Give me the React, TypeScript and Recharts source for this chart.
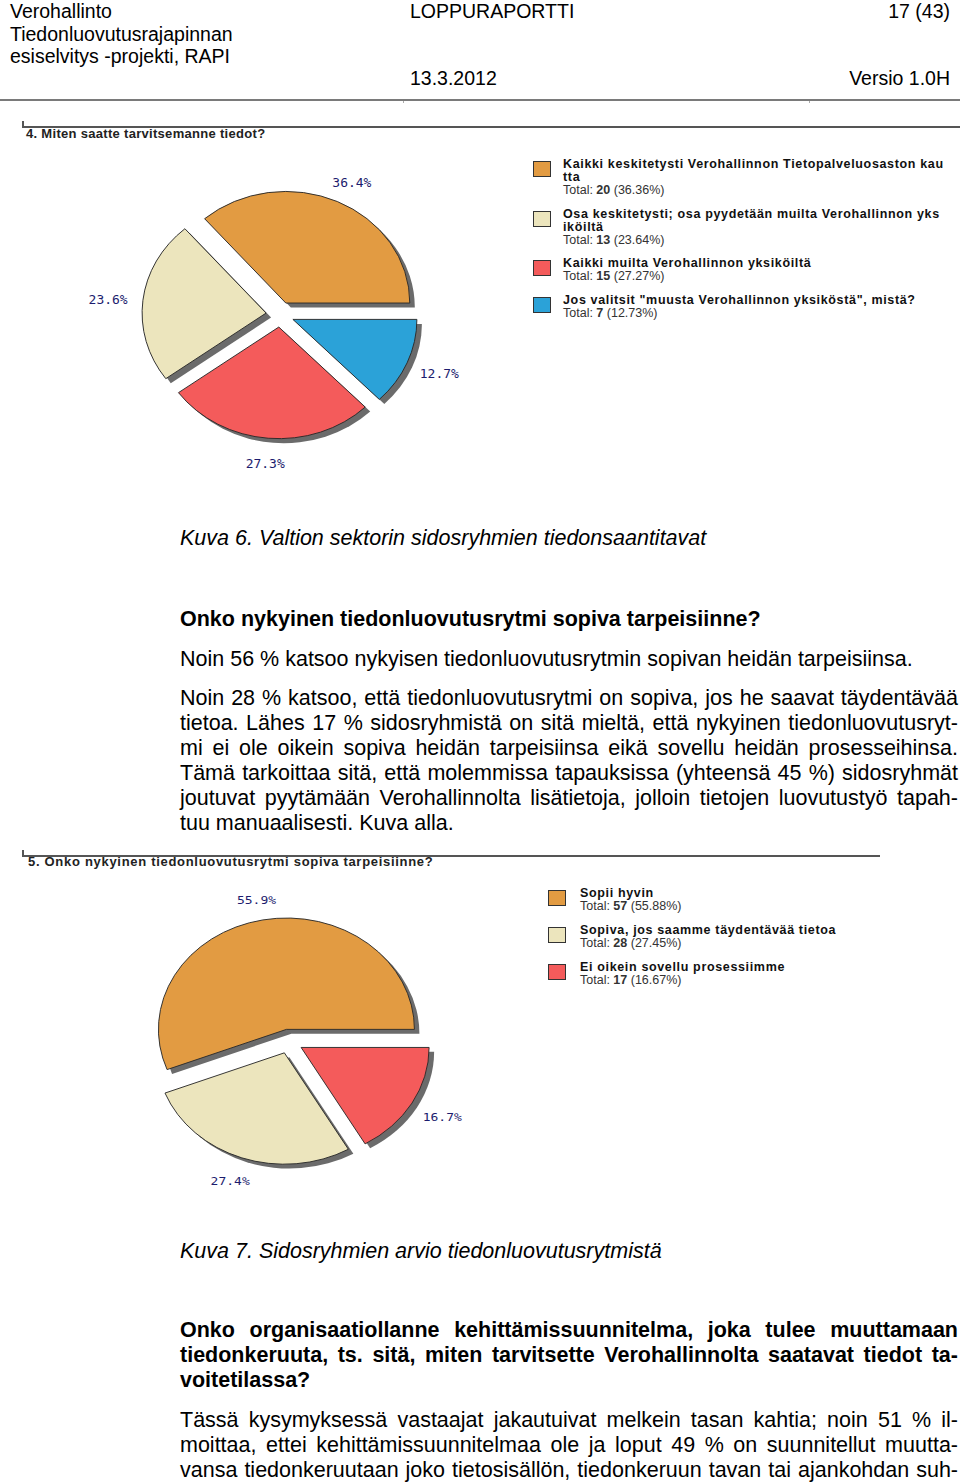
import React from 'react';
import { PieChart, Pie, Cell } from 'recharts';

// Kysymys 4: Miten saatte tarvitsemanne tiedot?
const q4Names = [
  'Kaikki keskitetysti Verohallinnon Tietopalveluosaston kautta',
  'Osa keskitetysti; osa pyydetään muilta Verohallinnon yksiköiltä',
  'Kaikki muilta Verohallinnon yksiköiltä',
  'Jos valitsit "muusta Verohallinnon yksiköstä", mistä?',
];
const q4Totals = [20, 13, 15, 7];
const q4Colors = ['#e29b42', '#ece5bd', '#f45b5b', '#2ba2d8'];
// where the legend wraps each name (0 = no wrap)
const q4Wraps = [57, 56, 0, 0];

// Kysymys 5: Onko nykyinen tiedonluovutusrytmi sopiva tarpeisiinne?
const q5Names = [
  'Sopii hyvin',
  'Sopiva, jos saamme täydentävää tietoa',
  'Ei oikein sovellu prosessiimme',
];
const q5Totals = [57, 28, 17];
const q5Colors = ['#e29b42', '#ece5bd', '#f45b5b'];
const q5Wraps = [0, 0, 0];

const sans = '"Liberation Sans", Arial, sans-serif';
const EXPLODE = 14;

// percentages to one decimal that still add up to 100.0 (largest remainder)
function roundedShares(totals: number[]) {
  const sum = totals.reduce((a, b) => a + b, 0);
  const raw = totals.map((v) => (v / sum) * 1000);
  const base = raw.map((x) => Math.floor(x));
  let left = 1000 - base.reduce((a, b) => a + b, 0);
  const order = raw.map((x, i) => ({ i, rem: x - Math.floor(x) })).sort((a, b) => b.rem - a.rem);
  for (const o of order) {
    if (left <= 0) break;
    base[o.i] += 1;
    left -= 1;
  }
  return base.map((b) => (b / 10).toFixed(1));
}

type PieProps = {
  names: string[];
  totals: number[];
  colors: string[];
  left: number;
  top: number;
  width: number;
  height: number;
  cx: number;
  cy: number;
  r: number;
  squash: number;
};

function ExplodedPie({ names, totals, colors, left, top, width, height, cx, cy, r, squash }: PieProps) {
  const data = names.map((name, i) => ({ name, value: totals[i] }));
  const sum = totals.reduce((a, b) => a + b, 0);
  const shares = roundedShares(totals);
  let acc = 0;
  const offsets = totals.map((v) => {
    const mid = ((acc + v / 2) / sum) * 2 * Math.PI;
    acc += v;
    return { dx: Math.cos(mid) * EXPLODE, dy: -Math.sin(mid) * EXPLODE };
  });

  const labelFor = (i: number) => (props: any) => {
    if (props.index !== i) return null;
    const a = (-props.midAngle * Math.PI) / 180;
    return (
      <text
        x={props.cx + (props.outerRadius + 35) * Math.cos(a)}
        y={props.cy + (props.outerRadius + 25.5) * Math.sin(a) + 3}
        textAnchor="middle"
        dominantBaseline="central"
        fill="#1c1c6e"
        fontFamily='"DejaVu Sans Mono", monospace'
        fontSize={13}
      >
        {shares[i]}%
      </text>
    );
  };

  const layer = (i: number, shadow: boolean) => (
    <Pie
      key={(shadow ? 's' : 'p') + i}
      data={data}
      dataKey="value"
      cx={cx + offsets[i].dx + (shadow ? 5 : 0)}
      cy={cy + offsets[i].dy + (shadow ? 5 : 0)}
      outerRadius={r}
      startAngle={0}
      endAngle={360}
      isAnimationActive={false}
      labelLine={false}
      label={shadow ? false : labelFor(i)}
    >
      {data.map((d, j) => (
        <Cell
          key={d.name}
          fill={j === i ? (shadow ? '#6b6b6b' : colors[j]) : 'transparent'}
          stroke={j === i && !shadow ? '#2a2a2a' : 'none'}
          strokeWidth={1}
        />
      ))}
    </Pie>
  );

  return (
    <div
      style={{
        position: 'absolute',
        left,
        top,
        width,
        height,
        transform: `scaleY(${squash})`,
        transformOrigin: `${cx}px ${cy}px`,
      }}
    >
      <PieChart width={width} height={height}>
        {data.map((_, i) => layer(i, true))}
        {data.map((_, i) => layer(i, false))}
      </PieChart>
    </div>
  );
}

function PieLegend({ names, totals, colors, wraps, left, top, textLeft, gap }: any) {
  const sum = totals.reduce((a: number, b: number) => a + b, 0);
  return (
    <div style={{ position: 'absolute', left, top, fontFamily: sans, fontSize: 12.5, lineHeight: '13px' }}>
      {names.map((n: string, i: number) => (
        <div key={n} style={{ position: 'relative', paddingLeft: textLeft, marginBottom: gap }}>
          <div
            style={{
              position: 'absolute',
              left: 0,
              top: 3,
              width: 18,
              height: 16,
              background: colors[i],
              border: '1px solid #333',
              boxSizing: 'border-box',
            }}
          />
          <div style={{ fontWeight: 'bold', letterSpacing: 0.65, whiteSpace: 'nowrap', color: '#111' }}>
            {wraps[i] ? (
              <>
                {n.slice(0, wraps[i])}
                <br />
                {n.slice(wraps[i])}
              </>
            ) : (
              n
            )}
          </div>
          <div style={{ color: '#333' }}>
            Total: <b>{totals[i]}</b> ({((totals[i] / sum) * 100).toFixed(2)}%)
          </div>
        </div>
      ))}
    </div>
  );
}

function Line({ text, top, justify = true, bold = false, italic = false }: any) {
  return (
    <div
      style={{
        position: 'absolute',
        left: 180,
        top,
        width: 778,
        fontFamily: sans,
        fontSize: 21.5,
        lineHeight: '25px',
        fontWeight: bold ? 'bold' : 'normal',
        fontStyle: italic ? 'italic' : 'normal',
        textAlign: justify ? 'justify' : 'left',
        textAlignLast: justify ? 'justify' : 'left',
        whiteSpace: 'nowrap',
        color: '#000',
      }}
    >
      {text}
    </div>
  );
}

const para1 = [
  'Noin 28 % katsoo, että tiedonluovutusrytmi on sopiva, jos he saavat täydentävää',
  'tietoa. Lähes 17 % sidosryhmistä on sitä mieltä, että nykyinen tiedonluovutusryt-',
  'mi ei ole oikein sopiva heidän tarpeisiinsa eikä sovellu heidän prosesseihinsa.',
  'Tämä tarkoittaa sitä, että molemmissa tapauksissa (yhteensä 45 %) sidosryhmät',
  'joutuvat pyytämään Verohallinnolta lisätietoja, jolloin tietojen luovutustyö tapah-',
];
const para2 = [
  'Onko organisaatiollanne kehittämissuunnitelma, joka tulee muuttamaan',
  'tiedonkeruuta, ts. sitä, miten tarvitsette Verohallinnolta saatavat tiedot ta-',
];
const para3 = [
  'Tässä kysymyksessä vastaajat jakautuivat melkein tasan kahtia; noin 51 % il-',
  'moittaa, ettei kehittämissuunnitelmaa ole ja loput 49 % on suunnitellut muutta-',
  'vansa tiedonkeruutaan joko tietosisällön, tiedonkeruun tavan tai ajankohdan suh-',
];

export default function App() {
  const hdr: React.CSSProperties = {
    position: 'absolute',
    fontFamily: sans,
    fontSize: 19.5,
    lineHeight: '22.5px',
    color: '#000',
    whiteSpace: 'nowrap',
  };
  return (
    <div style={{ position: 'absolute', left: 0, top: 0, width: 960, height: 1483, overflow: 'hidden', background: '#fff' }}>
      <div style={{ ...hdr, left: 10, top: 0 }}>
        Verohallinto
        <br />
        Tiedonluovutusrajapinnan
        <br />
        esiselvitys -projekti, RAPI
      </div>
      <div style={{ ...hdr, left: 410, top: 0 }}>LOPPURAPORTTI</div>
      <div style={{ ...hdr, right: 10, top: 0 }}>17 (43)</div>
      <div style={{ ...hdr, left: 410, top: 67 }}>13.3.2012</div>
      <div style={{ ...hdr, right: 10, top: 67 }}>Versio 1.0H</div>
      <div style={{ position: 'absolute', left: 0, top: 99, width: 960, height: 2, background: '#7a7a7a' }} />
      <div style={{ position: 'absolute', left: 403, top: 101, width: 1, height: 2, background: '#aaa' }} />
      <div style={{ position: 'absolute', left: 809, top: 101, width: 1, height: 2, background: '#aaa' }} />

      {/* Kuva 6 */}
      <div style={{ position: 'absolute', left: 22, top: 126, width: 938, height: 1.5, background: '#555' }} />
      <div style={{ position: 'absolute', left: 22, top: 121, width: 1.5, height: 6, background: '#555' }} />
      <div style={{ position: 'absolute', left: 26, top: 127, fontFamily: sans, fontSize: 13, letterSpacing: 0.3, fontWeight: 'bold', color: '#222', lineHeight: '14px', whiteSpace: 'nowrap' }}>
        4. Miten saatte tarvitsemanne tiedot?
      </div>
      <ExplodedPie
        names={q4Names}
        totals={q4Totals}
        colors={q4Colors}
        left={0}
        top={140}
        width={520}
        height={360}
        cx={275}
        cy={170}
        r={124}
        squash={0.9}
      />
      <PieLegend names={q4Names} totals={q4Totals} colors={q4Colors} wraps={q4Wraps} left={533} top={158} textLeft={30} gap={10.5} />

      <Line text="Kuva 6. Valtion sektorin sidosryhmien tiedonsaantitavat" top={525.5} justify={false} italic />
      <Line text="Onko nykyinen tiedonluovutusrytmi sopiva tarpeisiinne?" top={606.5} justify={false} bold />
      <Line text="Noin 56 % katsoo nykyisen tiedonluovutusrytmin sopivan heidän tarpeisiinsa." top={646.5} justify={false} />
      {para1.map((t, i) => (
        <Line key={t} text={t} top={686 + i * 25} />
      ))}
      <Line text="tuu manuaalisesti. Kuva alla." top={686 + 5 * 25} justify={false} />

      {/* Kuva 7 */}
      <div style={{ position: 'absolute', left: 22, top: 855, width: 858, height: 1.5, background: '#555' }} />
      <div style={{ position: 'absolute', left: 22, top: 850, width: 1.5, height: 6, background: '#555' }} />
      <ExplodedPie
        names={q5Names}
        totals={q5Totals}
        colors={q5Colors}
        left={0}
        top={860}
        width={520}
        height={360}
        cx={284}
        cy={177}
        r={128}
        squash={0.87}
      />
      <div style={{ position: 'absolute', left: 28, top: 855, fontFamily: sans, fontSize: 13, letterSpacing: 0.7, fontWeight: 'bold', color: '#222', lineHeight: '14px', whiteSpace: 'nowrap' }}>
        5. Onko nykyinen tiedonluovutusrytmi sopiva tarpeisiinne?
      </div>
      <PieLegend names={q5Names} totals={q5Totals} colors={q5Colors} wraps={q5Wraps} left={548} top={886.5} textLeft={32} gap={11} />

      <Line text="Kuva 7. Sidosryhmien arvio tiedonluovutusrytmistä" top={1238.5} justify={false} italic />
      {para2.map((t, i) => (
        <Line key={t} text={t} top={1318 + i * 25} bold />
      ))}
      <Line text="voitetilassa?" top={1318 + 50} bold justify={false} />
      {para3.map((t, i) => (
        <Line key={t} text={t} top={1408 + i * 25} />
      ))}
    </div>
  );
}
